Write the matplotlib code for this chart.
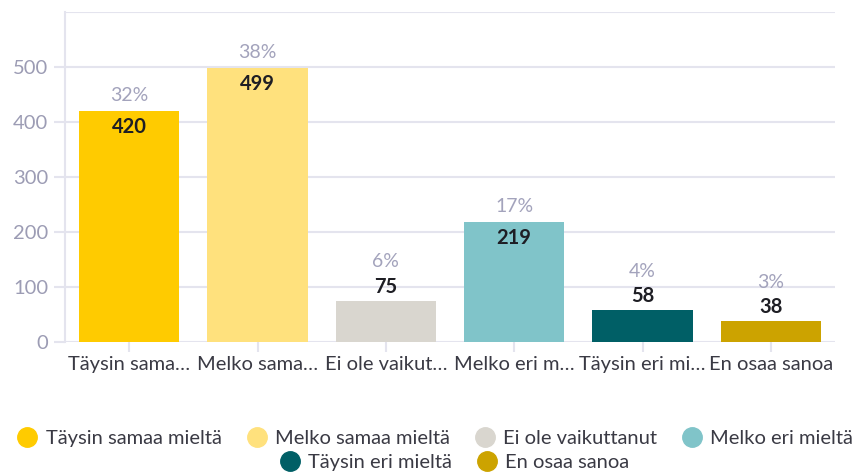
import matplotlib.pyplot as plt
from matplotlib.lines import Line2D

plt.rcParams['font.family'] = ['Lato', 'DejaVu Sans']

categories = ['Täysin samaa mieltä', 'Melko samaa mieltä', 'Ei ole vaikuttanut',
              'Melko eri mieltä', 'Täysin eri mieltä', 'En osaa sanoa']
tick_labels = ['Täysin sama…', 'Melko sama…', 'Ei ole vaikut…',
               'Melko eri m…', 'Täysin eri mi…', 'En osaa sanoa']
values = [420, 499, 75, 219, 58, 38]
percents = ['32%', '38%', '6%', '17%', '4%', '3%']
colors = ['#FFCB00', '#FFE17D', '#D9D6CF', '#80C4C9', '#005F66', '#CCA300']

grid_c = '#E4E4EE'
pct_c = '#A3A3BC'
val_c = '#1E1E24'

fig = plt.figure(figsize=(8.58, 4.72), dpi=100)
ax = fig.add_axes([65 / 858, 130 / 472, 770 / 858, 330 / 472])

x = list(range(len(values)))
ax.bar(x, values, width=0.78, color=colors, zorder=3)

ax.set_xlim(-0.5, len(values) - 0.5)
ax.set_ylim(0, 600)
ax.set_yticks([0, 100, 200, 300, 400, 500])
ax.set_xticks(x)
ax.set_xticklabels(tick_labels, fontsize=14.5, color='#3A3A44')
ax.tick_params(axis='y', length=8, color=grid_c, width=1.5, labelsize=14.5,
               labelcolor='#9C9CB4', pad=4)
ax.tick_params(axis='x', length=7, color=grid_c, width=1.5, pad=3)
ax.grid(axis='y', color=grid_c, linewidth=1.5, zorder=0)
ax.axhline(600, color=grid_c, linewidth=1.5, zorder=0)
for s in ['top', 'right', 'bottom']:
    ax.spines[s].set_visible(False)
ax.spines['left'].set_color(grid_c)
ax.spines['left'].set_linewidth(1.5)

# tall bars get the count inside, short ones above
for xi, v, p in zip(x, values, percents):
    if v >= 200:
        val_off, pct_off = -11.5, 11
    else:
        val_off, pct_off = 10, 28
    ax.annotate(str(v), (xi, v), xytext=(0, val_off), textcoords='offset points',
                ha='center', va='center', fontsize=14.5, fontweight='bold', color=val_c, zorder=4)
    ax.annotate(p, (xi, v), xytext=(0, pct_off), textcoords='offset points',
                ha='center', va='center', fontsize=14, color=pct_c, zorder=4)

handles = [Line2D([], [], marker='o', linestyle='', markersize=14,
                  markerfacecolor=c, markeredgecolor=c) for c in colors]
leg_kw = dict(loc='center', frameon=False, fontsize=14.5, handlelength=0.9,
              handletextpad=0.45, columnspacing=1.3, labelcolor='#3A3A44')
fig.legend(handles[:4], categories[:4], bbox_to_anchor=(0.508, 34 / 472), ncol=4, **leg_kw)
fig.legend(handles[4:], categories[4:], bbox_to_anchor=(0.53, 10 / 472), ncol=2, **leg_kw)

fig.savefig('out.png', dpi=100)
